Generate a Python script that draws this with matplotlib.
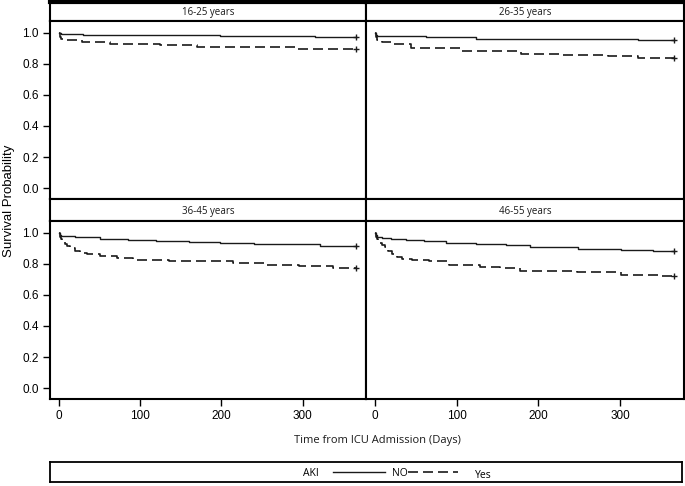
import matplotlib.pyplot as plt
from matplotlib.lines import Line2D

# age groups (panel order: top-left, top-right, bottom-left, bottom-right)
age_groups = ['16-25 years', '26-35 years', '36-45 years', '46-55 years']

# Kaplan-Meier step points (days, survival)
no_days = [
    [0, 3, 30, 198, 315, 366],
    [0, 1, 3, 63, 124, 322, 366],
    [0, 1, 3, 20, 50, 85, 120, 160, 198, 240, 276, 321, 366],
    [0, 1, 3, 8, 20, 38, 60, 87, 124, 160, 190, 248, 301, 340, 366],
]
no_surv = [
    [1.0, 0.99, 0.985, 0.98, 0.974, 0.974],
    [1.0, 0.985, 0.978, 0.97, 0.96, 0.955, 0.955],
    [1.0, 0.985, 0.979, 0.972, 0.962, 0.955, 0.947, 0.94, 0.936, 0.93, 0.926, 0.912, 0.912],
    [1.0, 0.985, 0.975, 0.968, 0.96, 0.951, 0.944, 0.936, 0.926, 0.918, 0.909, 0.898, 0.887, 0.881, 0.881],
]
yes_days = [
    [0, 1, 3, 10, 28, 63, 124, 170, 292, 366],
    [0, 1, 3, 8, 20, 44, 104, 178, 227, 285, 322, 366],
    [0, 1, 2, 4, 7, 10, 14, 20, 26, 35, 50, 71, 91, 135, 173, 214, 255, 296, 337, 366],
    [0, 1, 2, 4, 6, 9, 12, 16, 21, 27, 33, 45, 66, 91, 128, 153, 177, 247, 301, 350, 366],
]
yes_surv = [
    [1.0, 0.975, 0.96, 0.95, 0.94, 0.925, 0.92, 0.91, 0.896, 0.896],
    [1.0, 0.97, 0.955, 0.94, 0.925, 0.90, 0.88, 0.865, 0.857, 0.85, 0.84, 0.84],
    [1.0, 0.975, 0.96, 0.945, 0.93, 0.915, 0.9, 0.885, 0.872, 0.86, 0.851, 0.836, 0.823,
     0.82, 0.815, 0.802, 0.795, 0.787, 0.770, 0.770],
    [1.0, 0.975, 0.96, 0.945, 0.935, 0.92, 0.905, 0.885, 0.865, 0.845, 0.830, 0.822, 0.815,
     0.793, 0.781, 0.770, 0.755, 0.744, 0.729, 0.719, 0.719],
]

xticks = [0, 100, 200, 300]
yticks = [0.0, 0.2, 0.4, 0.6, 0.8, 1.0]

W, H = 685, 486
fig = plt.figure(figsize=(W / 100, H / 100), dpi=100)

def box(x0, y0, x1, y1):
    # pixel box (top-left origin) -> figure fraction rect
    return [x0 / W, 1 - y1 / H, (x1 - x0) / W, (y1 - y0) / H]

head_font = 'Open Sans'
tick_font = 'Liberation Sans'
ink = '#1a1a1a'
col_x = [(50, 366), (366, 684)]
row_y = [((2, 21), (21, 199)), ((199, 221), (221, 399))]

for i, name in enumerate(age_groups):
    r, c = divmod(i, 2)
    x0, x1 = col_x[c]
    (h0, h1), (p0, p1) = row_y[r]

    # header strip
    hx = fig.add_axes(box(x0, h0, x1, h1))
    hx.set_xticks([])
    hx.set_yticks([])
    for s in hx.spines.values():
        s.set_linewidth(1.5)
    if r == 0:
        hx.spines['top'].set_linewidth(3)
    hx.text(0.5, 0.45, name, ha='center', va='center', fontsize=7,
            family=head_font, color=ink, transform=hx.transAxes)

    ax = fig.add_axes(box(x0, p0, x1, p1))
    ax.step(no_days[i], no_surv[i], where='post', color=ink, lw=1.0)
    ax.step(yes_days[i], yes_surv[i], where='post', color=ink, lw=1.2,
            linestyle=(0, (6, 3)))
    ax.plot(no_days[i][-1], no_surv[i][-1], '+', color=ink, ms=5, mew=1.0)
    ax.plot(yes_days[i][-1], yes_surv[i][-1], '+', color=ink, ms=5, mew=1.0)
    ax.set_xlim(-11, 378)
    ax.set_ylim(-0.07, 1.075)
    for s in ax.spines.values():
        s.set_linewidth(1.5)
    ax.tick_params(length=5, width=1.0, labelsize=8.5, pad=3)

    if c == 0:
        ax.set_yticks(yticks)
        ax.set_yticklabels([f'{v:.1f}' for v in yticks], family=tick_font)
    else:
        ax.set_yticks([])
    if r == 1:
        ax.set_xticks(xticks)
        ax.set_xticklabels([str(v) for v in xticks], family=tick_font)
    else:
        ax.set_xticks([])

fig.text(9 / W, 1 - 201 / H, 'Survival Probability', rotation=90, ha='center',
         va='center', fontsize=9.5, family=tick_font)
fig.text(377 / W, 1 - 440 / H, 'Time from ICU Admission (Days)', ha='center',
         va='center', fontsize=8, family=head_font, color=ink)

# legend box
lg = fig.add_axes(box(50, 462, 682, 482))
lg.set_xlim(50, 682)
lg.set_ylim(0, 1)
lg.set_xticks([])
lg.set_yticks([])
for s in lg.spines.values():
    s.set_linewidth(1.3)
lg.text(311, 0.45, 'AKI', ha='center', va='center', fontsize=7.5, family=head_font)
lg.add_line(Line2D([333, 385], [0.5, 0.5], color=ink, lw=1.0))
lg.text(392, 0.45, 'NO', ha='left', va='center', fontsize=7.5, family=head_font)
lg.add_line(Line2D([408, 458], [0.5, 0.5], color=ink, lw=1.2,
                   linestyle=(0, (6, 3))))
lg.text(475, 0.35, 'Yes', ha='left', va='center', fontsize=7.5, family=head_font)

fig.savefig('out.png', dpi=100)
